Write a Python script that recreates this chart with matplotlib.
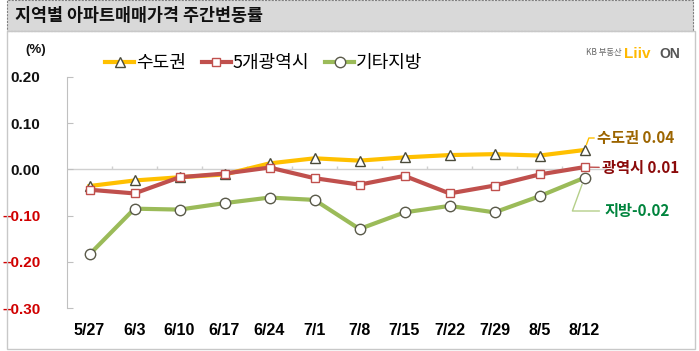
import matplotlib
matplotlib.use("Agg")
import matplotlib.pyplot as plt
from matplotlib.patches import Rectangle
import numpy as np

plt.rcParams["font.family"] = ["Noto Sans CJK KR", "DejaVu Sans"]

# Data
weeks = ["5/27", "6/3", "6/10", "6/17", "6/24", "7/1", "7/8", "7/15", "7/22", "7/29", "8/5", "8/12"]
capital = [-0.036, -0.024, -0.017, -0.011, 0.013, 0.024, 0.019, 0.026, 0.031, 0.033, 0.030, 0.042]
metro5 = [-0.044, -0.052, -0.017, -0.009, 0.004, -0.019, -0.033, -0.014, -0.052, -0.035, -0.011, 0.005]
others = [-0.184, -0.085, -0.087, -0.073, -0.061, -0.066, -0.129, -0.093, -0.079, -0.093, -0.058, -0.018]
yticks = [0.20, 0.10, 0.00, -0.10, -0.20, -0.30]
end_labels = ["수도권 0.04", "광역시 0.01", "지방-0.02"]

C_YEL = "#FFC000"
C_RED = "#C0504D"
C_GRN = "#9BBB59"
NUMF = ["Liberation Sans", "DejaVu Sans"]

fig = plt.figure(figsize=(6.99, 3.51), dpi=100)

# title bar and outer frame
fig.patches.append(Rectangle((7 / 699, 1 - 31 / 351), 686 / 699, 31 / 351, transform=fig.transFigure,
                             facecolor="#D9D9D9", edgecolor="#808080", linestyle=(0, (2, 1)), linewidth=0.8))
fig.patches.append(Rectangle((7 / 699, 2 / 351), 688 / 699, 318 / 351, transform=fig.transFigure,
                             facecolor="none", edgecolor="#C8C8C8", linewidth=1.0))
fig.text(15 / 699, 1 - 16 / 351, "지역별 아파트매매가격 주간변동률", fontsize=12.5, fontweight="bold",
         va="center", ha="left", color="#111111")

ax = fig.add_axes([67 / 699, 1 - 308 / 351, 540 / 699, 231 / 351])
x = np.arange(len(weeks))

ax.axhline(0, color="#D0D0D0", linewidth=1.0, zorder=1)
ax.vlines(x[:-1] + 0.5, 0, 0.008, color="#D0D0D0", linewidth=1.0, zorder=1)

l1, = ax.plot(x, capital, color=C_YEL, linewidth=3, marker="^", markersize=7,
              markerfacecolor="white", markeredgecolor="#4A4A3A", markeredgewidth=1.0, zorder=3)
l2, = ax.plot(x, metro5, color=C_RED, linewidth=3, marker="s", markersize=5.5,
              markerfacecolor="white", markeredgecolor=C_RED, markeredgewidth=1.0, zorder=4)
l3, = ax.plot(x, others, color=C_GRN, linewidth=3, marker="o", markersize=7.5,
              markerfacecolor="white", markeredgecolor="#5A5A4A", markeredgewidth=1.0, zorder=3)

ax.set_xlim(-0.5, len(weeks) - 0.5)
ax.set_ylim(-0.30, 0.20)
ax.set_yticks(yticks)
ax.set_yticklabels([f"{v:.2f}" if v >= 0 else f"\u2013{abs(v):.2f}" for v in yticks],
                   fontsize=11, fontweight="bold", family=NUMF)
for lab, v in zip(ax.get_yticklabels(), yticks):
    lab.set_color("#D00000" if v < 0 else "#111111")
ax.tick_params(axis="y", direction="in", length=4, color="#C0C0C0", pad=19)
ax.set_xticks(x)
ax.set_xticklabels(weeks, fontsize=11.5, fontweight="bold", family=NUMF)
ax.tick_params(axis="x", length=0, pad=11)
for s in ["top", "right", "bottom"]:
    ax.spines[s].set_visible(False)
ax.spines["left"].set_color("#C0C0C0")

fig.text(36 / 699, 1 - 50 / 351, "(%)", fontsize=9.5, fontweight="bold", family=NUMF,
         ha="center", va="center", color="#111111")

# end labels with leader lines
ax.annotate(end_labels[0], xy=(x[-1], capital[-1]), xytext=(597 / 699, 1 - 138 / 351), textcoords="figure fraction",
            fontsize=11, fontweight="bold", color="#9C6500", va="center", ha="left",
            arrowprops=dict(arrowstyle="-", color=C_YEL, lw=1, shrinkA=0, shrinkB=4,
                            connectionstyle="angle,angleA=0,angleB=70,rad=0"))
ax.annotate(end_labels[1], xy=(x[-1], metro5[-1]), xytext=(602 / 699, 1 - 168 / 351), textcoords="figure fraction",
            fontsize=11, fontweight="bold", color="#8B0A0A", va="center", ha="left",
            arrowprops=dict(arrowstyle="-", color=C_RED, lw=1, shrinkA=0, shrinkB=4))
ax.annotate(end_labels[2], xy=(x[-1], others[-1]), xytext=(605 / 699, 1 - 211 / 351), textcoords="figure fraction",
            fontsize=11, fontweight="bold", color="#00843D", va="center", ha="left",
            arrowprops=dict(arrowstyle="-", color="#B5CF8A", lw=1, shrinkA=2, shrinkB=5,
                            connectionstyle="angle,angleA=0,angleB=70,rad=0"))

# legend
fig.legend([l1, l2, l3], ["수도권", "5개광역시", "기타지방"], loc="center left",
           bbox_to_anchor=(98 / 699, 1 - 63 / 351), ncol=3, frameon=False, fontsize=13,
           handlelength=1.6, handletextpad=0.1, columnspacing=0.9, borderaxespad=0)

# logo
fig.text(586 / 699, 1 - 53 / 351, "KB 부동산", fontsize=6, color="#666666", va="center", ha="left")
fig.text(624 / 699, 1 - 54 / 351, "Liiv", fontsize=11, fontweight="bold", color="#FFB800", va="center", ha="left",
         family=NUMF)
fig.text(659 / 699, 1 - 54 / 351, "ON", fontsize=10, fontweight="bold", color="#555555", va="center", ha="left",
         family=NUMF)

fig.savefig("out.png", dpi=100, facecolor="white")
